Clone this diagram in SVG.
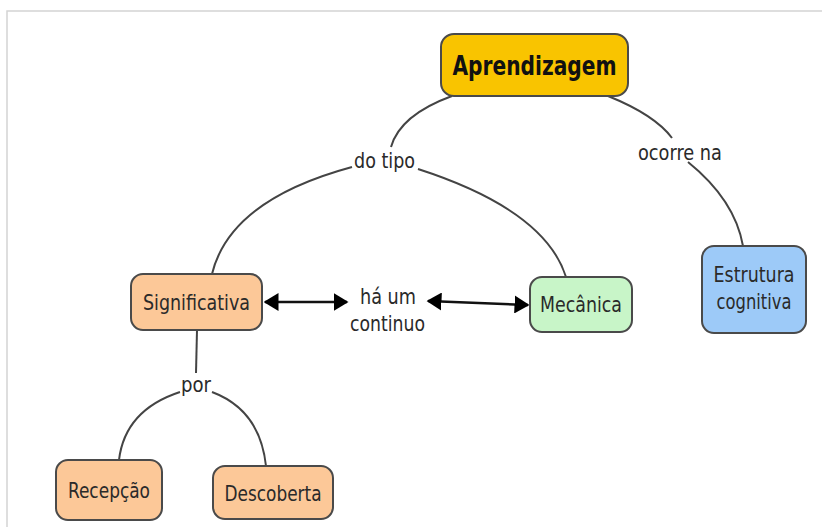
<svg xmlns="http://www.w3.org/2000/svg" width="822" height="527" viewBox="0 0 822 527">
<defs>
<style>
.node rect{stroke:#4a4a4a;stroke-width:2}
.t{font-family:"DejaVu Sans Condensed","Liberation Sans Narrow","DejaVu Sans",sans-serif;fill:#2a2a2a;text-anchor:middle;font-size:21px}
.b{font-weight:bold;font-size:27px;fill:#111}
.c{fill:none;stroke:#444;stroke-width:2}
.a{fill:none;stroke:#111;stroke-width:2.5}
</style>
<marker id="ah" viewBox="0 0 10 12" refX="9" refY="6" markerWidth="6" markerHeight="7.2" markerUnits="strokeWidth" orient="auto-start-reverse">
<path d="M0,0 L10,6 L0,12 Z" fill="#000"/>
</marker>
</defs>
<rect width="822" height="527" fill="#fff"/>
<path d="M7,527 V11 H822" fill="none" stroke="#d4d4d4" stroke-width="1.5"/>
<g id="connectors">
<path class="c" d="M452,96 Q400,115 391,147"/>
<path class="c" d="M352,167 Q230,200 212,274"/>
<path class="c" d="M418,169 Q545,210 566,277"/>
<path class="c" d="M608,96 Q655,115 672,138"/>
<path class="c" d="M688,162 Q735,200 743,246"/>
<path class="c" d="M197,330 L196,373"/>
<path class="c" d="M180,392 Q125,410 119,460"/>
<path class="c" d="M212,392 Q260,410 266,466"/>
<path class="a" d="M265,302 L347,302" marker-start="url(#ah)" marker-end="url(#ah)"/>
<path class="a" d="M428,301 L528,305" marker-start="url(#ah)" marker-end="url(#ah)"/>
</g>
<g id="aprendizagem" class="node">
<rect x="441" y="34" width="187" height="62" rx="13" fill="#f9c400"/>
<text class="t b" x="534.5" y="75" textLength="164" lengthAdjust="spacingAndGlyphs">Aprendizagem</text>
</g>
<g id="significativa" class="node">
<rect x="131" y="274" width="131" height="56" rx="12" fill="#fcc898"/>
<text class="t" x="196.5" y="310" textLength="107" lengthAdjust="spacingAndGlyphs">Significativa</text>
</g>
<g id="mecanica" class="node">
<rect x="530" y="277" width="102" height="55" rx="12" fill="#c8f5c8"/>
<text class="t" x="581" y="312" textLength="82" lengthAdjust="spacingAndGlyphs">Mecânica</text>
</g>
<g id="estrutura" class="node">
<rect x="702" y="246" width="104" height="87" rx="12" fill="#9dcaf8"/>
<text class="t" x="754" y="282" textLength="81" lengthAdjust="spacingAndGlyphs">Estrutura</text>
<text class="t" x="754" y="309" textLength="75" lengthAdjust="spacingAndGlyphs">cognitiva</text>
</g>
<g id="recepcao" class="node">
<rect x="56" y="460" width="106" height="60" rx="12" fill="#fcc898"/>
<text class="t" x="109" y="498" textLength="82" lengthAdjust="spacingAndGlyphs">Recepção</text>
</g>
<g id="descoberta" class="node">
<rect x="213" y="466" width="120" height="53" rx="12" fill="#fcc898"/>
<text class="t" x="273" y="501" textLength="97" lengthAdjust="spacingAndGlyphs">Descoberta</text>
</g>
<g id="label-do-tipo">
<text class="t" x="384.5" y="168" textLength="61" lengthAdjust="spacingAndGlyphs">do tipo</text>
</g>
<g id="label-ocorre-na">
<text class="t" x="680" y="160" textLength="84" lengthAdjust="spacingAndGlyphs">ocorre na</text>
</g>
<g id="label-continuo">
<text class="t" x="388" y="304" textLength="56" lengthAdjust="spacingAndGlyphs">há um</text>
<text class="t" x="387.5" y="331" textLength="75" lengthAdjust="spacingAndGlyphs">continuo</text>
</g>
<g id="label-por">
<text class="t" x="196" y="392" textLength="30" lengthAdjust="spacingAndGlyphs">por</text>
</g>
</svg>
